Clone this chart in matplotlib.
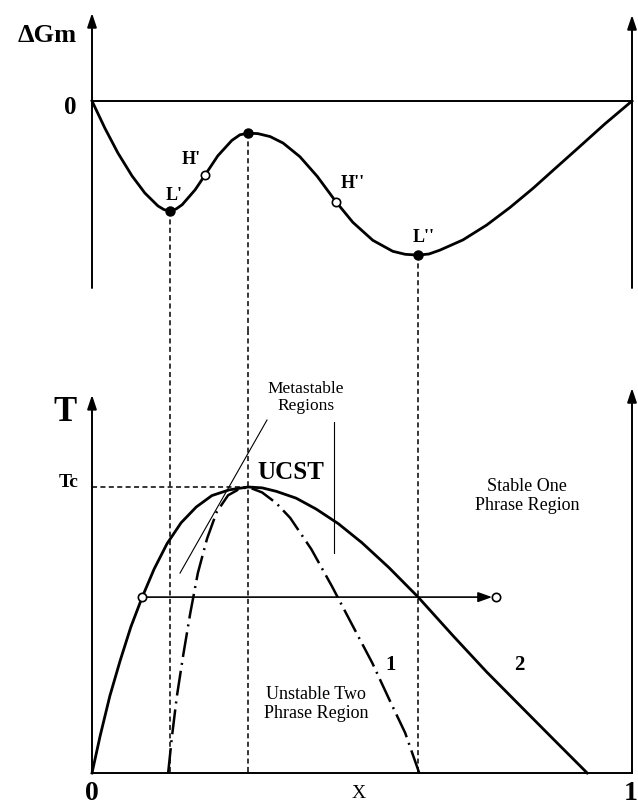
import numpy as np
import matplotlib
matplotlib.use("Agg")
import matplotlib.pyplot as plt

plt.rcParams['font.family'] = ['Liberation Serif', 'DejaVu Serif']

# --- free energy of mixing vs composition (arbitrary units) ---
g_x = [0.000, 0.024, 0.048, 0.074, 0.098, 0.122, 0.133, 0.144, 0.156, 0.167,
       0.191, 0.209, 0.233, 0.259, 0.274, 0.289, 0.307, 0.330, 0.354, 0.385,
       0.417, 0.452, 0.483, 0.520, 0.557, 0.580, 0.604, 0.624, 0.644, 0.687,
       0.731, 0.774, 0.817, 0.857, 0.900, 0.950, 1.000]
g_val = [0.000, -0.273, -0.520, -0.748, -0.921, -1.049, -1.085, -1.100, -1.079, -1.037,
         -0.888, -0.743, -0.548, -0.394, -0.338, -0.322, -0.326, -0.356, -0.421, -0.557,
         -0.753, -1.009, -1.213, -1.393, -1.503, -1.533, -1.541, -1.530, -1.492, -1.389,
         -1.240, -1.065, -0.872, -0.678, -0.471, -0.228, 0.000]

# special points on the free energy curve
min_x = [0.144, 0.289, 0.604]      # L', maximum, L''
min_g = [-1.100, -0.322, -1.541]
infl_x = [0.209, 0.452]            # H', H''
infl_g = [-0.743, -1.009]
pt_labels = ["L'", "H'", "H''", "L''"]

# --- phase diagram: binodal (2) and spinodal (1), T / Tc ---
bin_x = [0.000, 0.015, 0.033, 0.052, 0.072, 0.093, 0.115, 0.139, 0.165, 0.193,
         0.222, 0.254, 0.289, 0.315, 0.341, 0.378, 0.415, 0.456, 0.500, 0.550,
         0.604, 0.669, 0.731, 0.793, 0.854, 0.917]
bin_t = [0.000, 0.129, 0.269, 0.392, 0.511, 0.615, 0.713, 0.802, 0.875, 0.930,
         0.970, 0.990, 1.000, 0.997, 0.985, 0.961, 0.923, 0.872, 0.805, 0.718,
         0.615, 0.479, 0.353, 0.235, 0.119, 0.000]

spin_x = [0.141, 0.148, 0.157, 0.169, 0.182, 0.196, 0.213, 0.231, 0.252, 0.270,
          0.289, 0.315, 0.341, 0.367, 0.406, 0.444, 0.481, 0.519, 0.550, 0.580,
          0.606]
spin_t = [0.000, 0.126, 0.266, 0.413, 0.559, 0.699, 0.819, 0.913, 0.971, 0.990,
          1.000, 0.981, 0.944, 0.892, 0.783, 0.654, 0.521, 0.385, 0.259, 0.140,
          0.000]

# isotherm crossing the two-phase region
iso_t = 0.615
iso_x = [0.093, 0.748]

# pointer lines for the metastable label
meta_a_x = [0.324, 0.163]
meta_a_t = [1.234, 0.699]
meta_b_x = [0.448, 0.448]
meta_b_t = [1.227, 0.769]

fig = plt.figure(figsize=(6.38, 8.06), dpi=100)
split = 330 / 806
ax1 = fig.add_axes([0, 1 - split, 1, split])
ax2 = fig.add_axes([0, 0, 1, 1 - split])

xlim = (-92 / 540, 1 + 6 / 540)
for ax in (ax1, ax2):
    ax.set_xlim(*xlim)
    ax.axis('off')
ax1.set_ylim(-2.29, 1.01)
ax2.set_ylim(-33 / 286, 443 / 286)

k = 'black'
arrow = dict(arrowstyle='-|>,head_length=0.6,head_width=0.2', lw=1.4,
             color=k, shrinkA=0, shrinkB=0, mutation_scale=14)

# ---------- upper panel ----------
ax1.annotate('', xy=(0, 0.88), xytext=(0, -1.87), arrowprops=arrow)
ax1.annotate('', xy=(1, 0.86), xytext=(1, -1.87), arrowprops=arrow)
ax1.plot([0, 1], [0, 0], color=k, lw=1.4)
ax1.plot(g_x, g_val, color=k, lw=2.0, solid_joinstyle='round', zorder=3)
ax1.plot(min_x, min_g, 'o', color=k, ms=6.5, zorder=4)
ax1.plot(infl_x, infl_g, 'o', mfc='white', mec=k, mew=1.2, ms=6, zorder=4)

dash = dict(color=k, lw=1.1, dashes=(3.3, 2.2))
for xv, gv in zip(min_x, min_g):
    ax1.plot([xv, xv], [gv, -2.29], **dash)

ax1.text(-0.083, 0.65, '\u0394Gm', fontsize=19, fontweight='bold',
         ha='center', va='center')
ax1.text(-0.041, -0.07, '0', fontsize=18, fontweight='bold',
         ha='center', va='center')
lab_pos = [(0.152, -0.94), (0.183, -0.59), (0.483, -0.82), (0.615, -1.37)]
for lab, (lx, ly) in zip(pt_labels, lab_pos):
    ax1.text(lx, ly, lab, fontsize=13, fontweight='bold', ha='center', va='center')

# ---------- lower panel ----------
ax2.annotate('', xy=(0, 1.322), xytext=(0, 0), arrowprops=arrow)
ax2.annotate('', xy=(1, 1.346), xytext=(1, 0), arrowprops=arrow)
ax2.plot([0, 1], [0, 0], color=k, lw=1.4)

for xv in min_x:
    ax2.plot([xv, xv], [443 / 286, 0], **dash)
ax2.plot([0, min_x[1]], [1, 1], **dash)

ax2.plot(bin_x, bin_t, color=k, lw=2.0, solid_joinstyle='round', zorder=3)
ax2.plot(spin_x, spin_t, color=k, lw=1.8, dashes=(10, 2.4, 0.8, 2.4), zorder=3)

ax2.annotate('', xy=(iso_x[1] - 0.007, iso_t), xytext=(iso_x[0], iso_t),
             arrowprops=dict(arrowstyle='-|>,head_length=0.7,head_width=0.25',
                             lw=1.2, color=k, shrinkA=0, shrinkB=0,
                             mutation_scale=12))
ax2.plot(iso_x, [iso_t, iso_t], 'o', mfc='white', mec=k, mew=1.2, ms=6, zorder=4)

ax2.plot(meta_a_x, meta_a_t, color=k, lw=0.8)
ax2.plot(meta_b_x, meta_b_t, color=k, lw=0.8)

ax2.text(-0.050, 1.259, 'T', fontsize=25, fontweight='bold', ha='center', va='center')
ax2.text(-0.044, 1.017, 'Tc', fontsize=14, fontweight='bold', ha='center', va='center')
ax2.text(0, -0.070, '0', fontsize=20, fontweight='bold', ha='center', va='center')
ax2.text(0.998, -0.070, '1', fontsize=20, fontweight='bold', ha='center', va='center')
ax2.text(0.493, -0.070, 'X', fontsize=14, ha='center', va='center')
ax2.text(0.369, 1.049, 'UCST', fontsize=18, fontweight='bold', ha='center', va='center')
ax2.text(0.396, 1.313, 'Metastable\nRegions', fontsize=12.5, ha='center',
         va='center', linespacing=1.15)
ax2.text(0.806, 0.970, 'Stable One\nPhrase Region', fontsize=13, ha='center',
         va='center', linespacing=1.15)
ax2.text(0.415, 0.241, 'Unstable Two\nPhrase Region', fontsize=13, ha='center',
         va='center', linespacing=1.15)
ax2.text(0.552, 0.378, '1', fontsize=15, fontweight='bold', ha='center', va='center')
ax2.text(0.791, 0.378, '2', fontsize=15, fontweight='bold', ha='center', va='center')

fig.savefig('out.png', dpi=100)
